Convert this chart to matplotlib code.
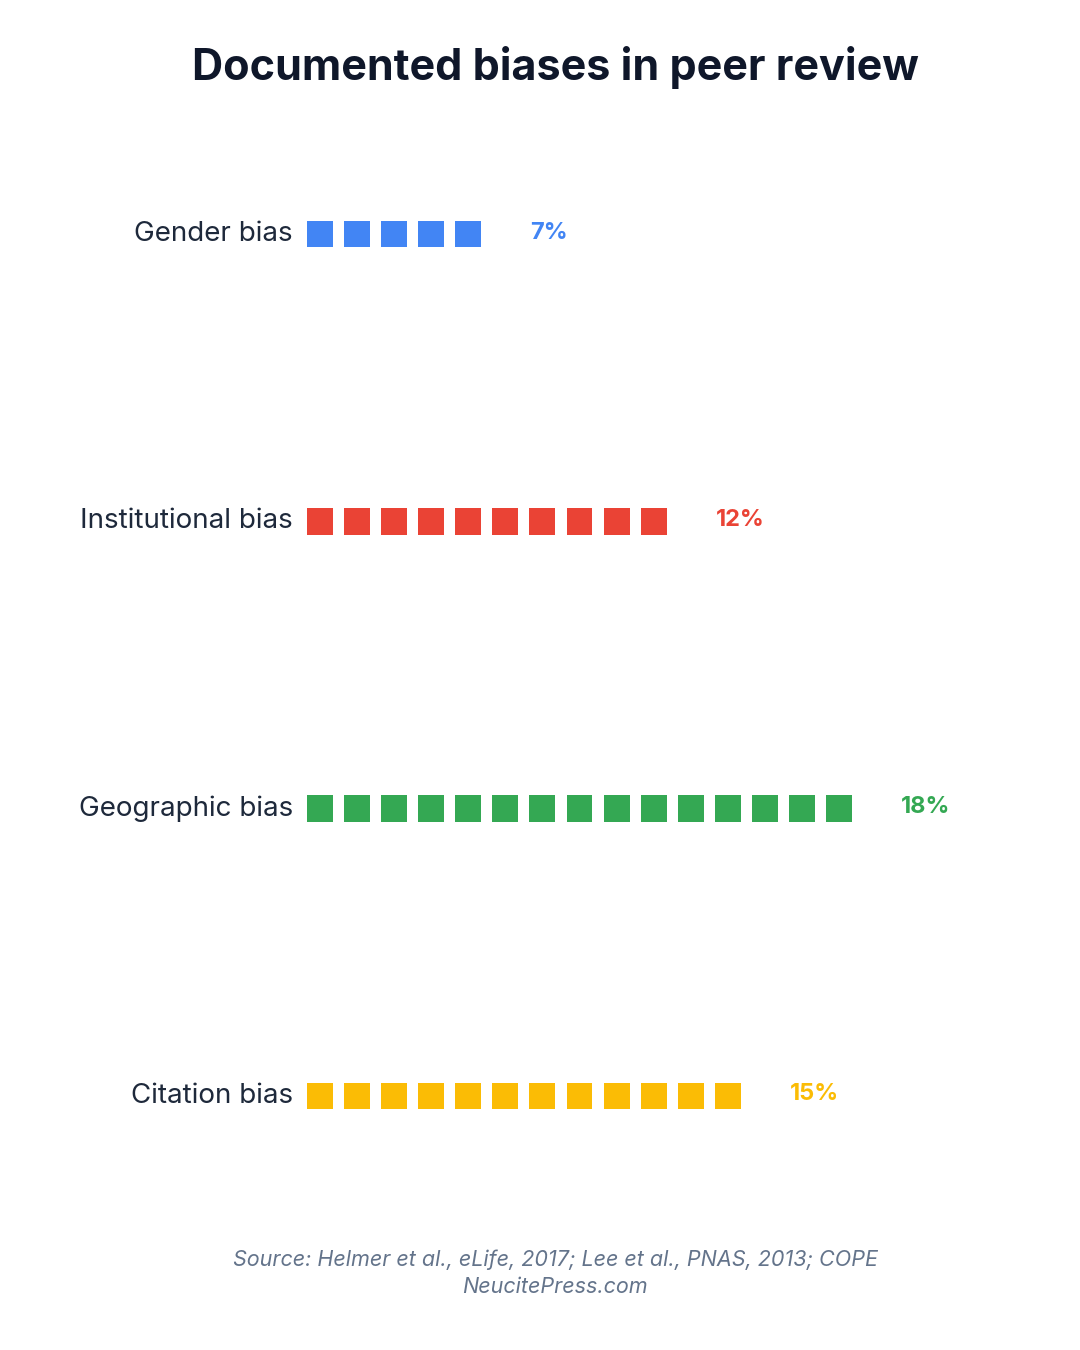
import matplotlib
matplotlib.use("Agg")
import matplotlib.pyplot as plt

# data
categories = ["Gender bias", "Institutional bias", "Geographic bias", "Citation bias"]
percent = [7, 12, 18, 15]
squares = [5, 10, 15, 12]
colors = ["#4285F4", "#EA4335", "#34A853", "#FBBC05"]

title = "Documented biases in peer review"
source = "Source: Helmer et al., eLife, 2017; Lee et al., PNAS, 2013; COPE\nNeucitePress.com"

plt.rcParams["font.family"] = ["Inter", "DejaVu Sans"]

fig = plt.figure(figsize=(10.8, 13.5), dpi=100)
fig.patch.set_facecolor("white")

# one unit on x = one square step, one unit on y = one row
ax = fig.add_axes([0.2843, 0.0818, 0.6865, 0.8513])
ax.set_xlim(0, 20)
ax.set_ylim(3.5, -0.5)
ax.axis("off")

sq_w = 0.70   # square width (step = 1)
sq_h = 0.092  # square height in row units

for row, (cat, val, n, col) in enumerate(zip(categories, percent, squares, colors)):
    xs = list(range(n))
    ax.bar(xs, [sq_h] * n, width=sq_w, bottom=row - sq_h / 2, align="edge",
           color=col, edgecolor="none")
    ax.text(-0.38, row, cat, ha="right", va="center", fontsize=20,
            color="#1e293b")
    ax.text(n + 1.02, row - 0.005, f"{val}%", ha="left", va="center", fontsize=17,
            fontweight="bold", color=col)

fig.text(0.514, 0.950, title, ha="center", va="center", fontsize=31,
         fontweight="bold", color="#0f172a")
fig.text(0.514, 0.057, source, ha="center", va="center", fontsize=15.5,
         style="italic", color="#64748b", linespacing=1.45)

fig.savefig("out.png", dpi=100, facecolor="white")
